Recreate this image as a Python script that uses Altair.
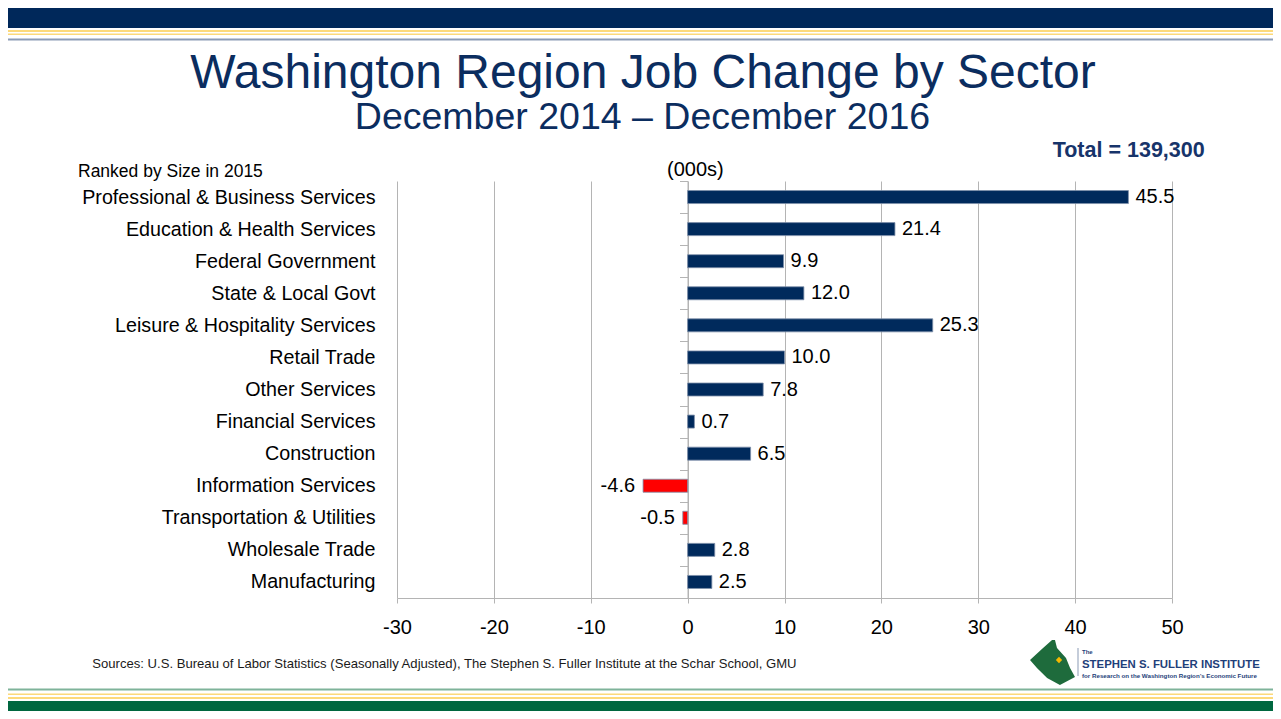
import altair as alt
import pandas as pd

# ---------------- data ----------------
sectors = [
    "Professional & Business Services",
    "Education & Health Services",
    "Federal Government",
    "State & Local Govt",
    "Leisure & Hospitality Services",
    "Retail Trade",
    "Other Services",
    "Financial Services",
    "Construction",
    "Information Services",
    "Transportation & Utilities",
    "Wholesale Trade",
    "Manufacturing",
]
changes = [45.5, 21.4, 9.9, 12.0, 25.3, 10.0, 7.8, 0.7, 6.5, -4.6, -0.5, 2.8, 2.5]
x_ticks = [-30, -20, -10, 0, 10, 20, 30, 40, 50]

title_text = "Washington Region Job Change by Sector"
subtitle_text = "December 2014 \u2013 December 2016"
total_text = "Total = 139,300"
units_text = "(000s)"
ranked_text = "Ranked by Size in 2015"
source_text = ("Sources: U.S. Bureau of Labor Statistics (Seasonally Adjusted), "
               "The Stephen S. Fuller Institute at the Schar School, GMU")

df = pd.DataFrame({"Sector": sectors, "Change": changes})

# ---------------- layout helpers ----------------
PW, PH = 775, 417            # plot area
OX, OY = 397, 181            # plot origin in slide coords
CW, CH = 1265, 703           # whole canvas
def X(v): return v - OX
def Y(v): return v - OY

NAVY = "#002A5C"
RED = "#FF0000"
GRID = "#B4B4B4"
SANS = "Liberation Sans"

one = pd.DataFrame({"k": [0]})

x_enc = alt.X("Change:Q",
              scale=alt.Scale(domain=[-30, 50], nice=False, zero=False),
              axis=alt.Axis(values=x_ticks, title=None, grid=True,
                            labelExpr="(datum.value < 0 ? '-' : '') + abs(datum.value)",
                            labelFlush=False, labelOverlap=False,
                            gridColor=GRID, gridWidth=1, domainColor=GRID,
                            tickColor=GRID, tickSize=5, labelFont=SANS,
                            labelFontSize=20, labelColor="#000000",
                            labelBaseline="alphabetic", labelPadding=30))
y_enc = alt.Y("Sector:N", sort=sectors,
              scale=alt.Scale(paddingInner=0, paddingOuter=0),
              axis=alt.Axis(title=None, orient="left", offset=-290.5,
                            domain=True, domainColor=GRID, ticks=True,
                            tickSize=8, tickColor=GRID, tickBand="extent",
                            grid=False, labelFont=SANS, labelFontSize=19.7,
                            labelColor="#000000", labelPadding=304.5,
                            labelLimit=500))

bars = alt.Chart(df).mark_bar(size=13, stroke="#7E8FAA", strokeWidth=0.8).encode(
    x=x_enc, y=y_enc,
    color=alt.condition("datum.Change < 0", alt.value(RED), alt.value(NAVY)),
)
lbl_calc = "(datum.Change < 0 ? '-' : '') + format(abs(datum.Change), '.1f')"
pos_lbl = alt.Chart(df).transform_filter("datum.Change >= 0").transform_calculate(
    lbl=lbl_calc).mark_text(
    align="left", dx=7, baseline="middle", font=SANS, fontSize=20, color="#000000"
).encode(x=x_enc, y=y_enc, text="lbl:N")
neg_lbl = alt.Chart(df).transform_filter("datum.Change < 0").transform_calculate(
    lbl=lbl_calc).mark_text(
    align="right", dx=-8, baseline="middle", font=SANS, fontSize=20, color="#000000"
).encode(x=x_enc, y=y_enc, text="lbl:N")


def band(x1, x2, y1, y2, color):
    return alt.Chart(one).mark_rect(color=color).encode(
        x=alt.value(X(x1)), x2=alt.value(X(x2)),
        y=alt.value(Y(y1)), y2=alt.value(Y(y2)))


def txt(s, x, y, size, font=SANS, color="#000000", align="left", weight="normal"):
    return alt.Chart(one).mark_text(
        text=s, align=align, baseline="alphabetic", font=font, fontSize=size,
        color=color, fontWeight=weight
    ).encode(x=alt.value(X(x)), y=alt.value(Y(y)))


decor = [
    band(0, 1281, 0, 28, "#00285A"),
    band(0, 1281, 30, 32, "#FCD97A"),
    band(0, 1281, 33.5, 35, "#FCD97A"),
    band(0, 1281, 38.5, 40.5, "#8C9CB6"),
    band(0, 1281, 688.5, 690.5, "#7FB39A"),
    band(0, 1281, 693.5, 695, "#FCD97A"),
    band(0, 1281, 697, 699, "#FCD97A"),
    band(0, 1281, 701, 719, "#00673F"),
    band(1077.5, 1078.5, 648, 676, "#8C9CB6"),
]

logo_path = ("M -0.02 -1 L -0.42 -0.64 L -1 -0.11 L -0.69 0.24 L -0.24 0.69 "
             "L 0.33 1 L 1 0.64 L 0.78 0.24 L 0.6 -0.2 L 0.2 -0.64 L 0.11 -1 Z")
logo = alt.Chart(one).mark_point(shape=logo_path, size=2025, filled=True,
                                 color="#1E6B3C", opacity=1).encode(
    x=alt.value(X(1052.5)), y=alt.value(Y(662.5)))
logo_dot = alt.Chart(one).mark_point(shape="diamond", size=40, filled=True,
                                     color="#F5B800", opacity=1).encode(
    x=alt.value(X(1059)), y=alt.value(Y(660)))

texts = [
    txt(title_text, 643, 88, 48, color="#0B2D5F", align="center"),
    txt(subtitle_text, 642.5, 129, 37.5, color="#0B2D5F", align="center"),
    txt(total_text, 1052.7, 157.3, 21.5, color="#17346A", weight="bold"),
    txt(units_text, 667, 176, 20),
    txt(ranked_text, 78, 177, 17.5),
    txt(source_text, 92.3, 668.3, 13.1, color="#1A1A1A"),
    txt("The", 1082, 654, 6, color="#1F3F7A", weight="bold"),
    txt("STEPHEN S. FULLER INSTITUTE", 1082, 668.3, 11.4,
        color="#1F3F7A", weight="bold"),
    txt("for Research on the Washington Region\u2019s Economic Future", 1082, 678,
        6.2, color="#1F3F7A", weight="bold"),
]

chart = alt.layer(
    *decor, bars, pos_lbl, neg_lbl, logo, logo_dot, *texts
).properties(
    width=PW, height=PH,
    padding={"left": OX - 8, "top": OY - 8,
             "right": CW - (OX - 8) - PW, "bottom": CH - (OY - 8) - PH},
    autosize=alt.AutoSizeParams(type="none"),
    background="#FFFFFF",
).configure_view(stroke=None)

chart.save("out.html", embed_options={"renderer": "svg", "actions": False})
